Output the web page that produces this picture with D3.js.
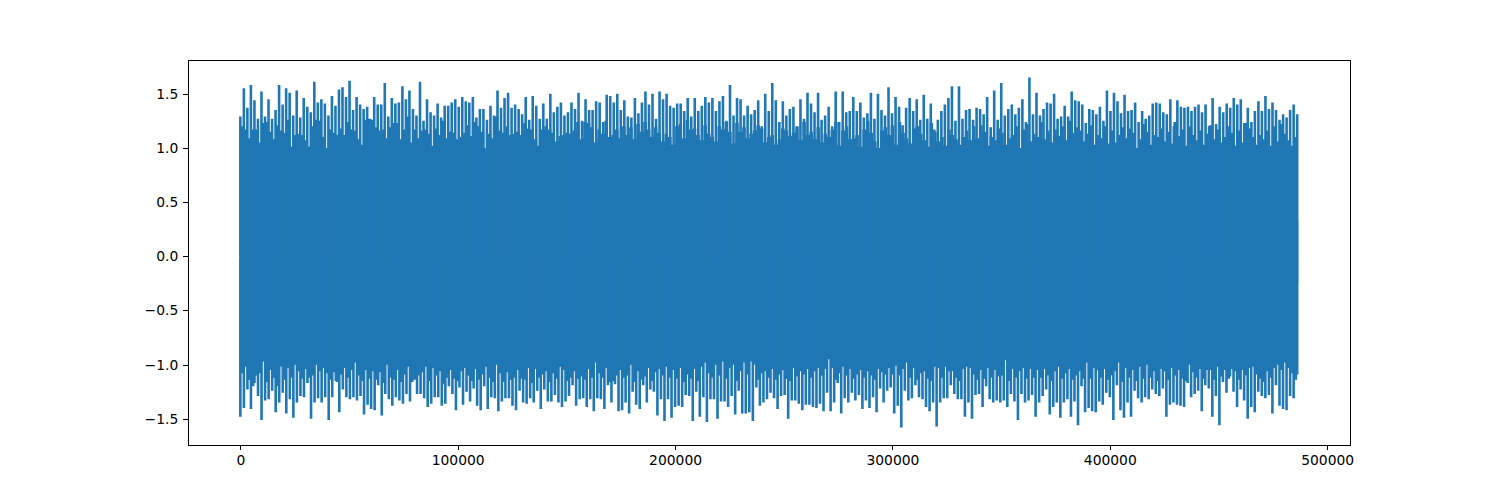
<!DOCTYPE html>
<html><head><meta charset="utf-8">
<script src="https://d3js.org/d3.v7.min.js"></script>
<style>html,body{margin:0;background:#fff}svg{display:block}text{font-family:"DejaVu Sans",sans-serif;font-size:13.89px;fill:#000}</style>
</head><body><svg id="c" width="1500" height="500"></svg>
<script>
const sampleCount = 486200;
const xTicks = [0,100000,200000,300000,400000,500000];
const yTicks = [-1.5,-1,-0.5,0,0.5,1,1.5];
const lineColor = "#1f77b4";
// upper peak of each oscillation
const upperPeaks = [
1.29,1.55,1.37,1.58,1.44,1.27,1.52,1.29,1.45,1.27,1.35,1.58,1.40,1.55,1.51,1.30,1.53,1.28,1.46,1.38,
1.33,1.61,1.42,1.45,1.41,1.30,1.48,1.39,1.54,1.56,1.47,1.62,1.35,1.47,1.40,1.36,1.38,1.26,1.47,1.40,
1.40,1.60,1.29,1.46,1.41,1.42,1.57,1.45,1.53,1.36,1.30,1.61,1.25,1.45,1.33,1.30,1.41,1.28,1.39,1.39,
1.42,1.45,1.38,1.47,1.43,1.42,1.47,1.28,1.36,1.36,1.26,1.39,1.30,1.53,1.37,1.46,1.51,1.37,1.40,1.36,
1.31,1.47,1.26,1.48,1.39,1.27,1.41,1.27,1.50,1.33,1.38,1.42,1.30,1.33,1.42,1.36,1.51,1.25,1.45,1.35,
1.35,1.43,1.42,1.24,1.49,1.48,1.42,1.50,1.35,1.44,1.29,1.28,1.46,1.32,1.42,1.52,1.40,1.50,1.27,1.52,
1.45,1.50,1.39,1.37,1.41,1.41,1.34,1.46,1.29,1.46,1.34,1.39,1.47,1.42,1.46,1.34,1.43,1.48,1.25,1.58,
1.30,1.46,1.45,1.30,1.39,1.31,1.35,1.44,1.20,1.50,1.34,1.60,1.44,1.24,1.43,1.30,1.36,1.38,1.18,1.45,
1.27,1.51,1.41,1.33,1.51,1.26,1.30,1.38,1.20,1.52,1.24,1.52,1.33,1.34,1.47,1.34,1.42,1.28,1.32,1.51,
1.27,1.50,1.35,1.30,1.56,1.32,1.47,1.38,1.21,1.37,1.46,1.34,1.45,1.26,1.49,1.27,1.41,1.17,1.26,1.34,
1.40,1.46,1.57,
1.25,1.57,1.27,1.35,1.36,1.26,1.37,1.36,1.31,1.47,1.19,1.53,1.26,1.60,1.30,1.36,1.40,1.31,1.37,1.45,
1.24,1.65,1.31,1.51,1.30,1.36,1.42,1.41,1.50,1.27,1.29,1.39,1.29,1.52,1.44,1.43,1.40,1.23,1.36,1.35,
1.31,1.38,1.25,1.53,1.34,1.51,1.43,1.32,1.49,1.34,1.35,1.42,1.24,1.34,1.27,1.30,1.41,1.42,1.41,1.33,
1.31,1.45,1.20,1.44,1.38,1.37,1.38,1.34,1.38,1.40,1.33,1.40,1.20,1.46,1.22,1.38,1.33,1.41,1.37,1.46,
1.40,1.45,1.23,1.37,1.24,1.34,1.43,1.34,1.48,1.36,1.42,1.35,1.26,1.31,1.28,1.35,1.40,1.31];
// lower peak of each oscillation
const lowerPeaks = [
-1.48,-1.40,-1.23,-1.41,-1.17,-1.29,-1.51,-1.33,-1.32,-1.24,-1.44,-1.35,-1.26,-1.45,-1.32,-1.49,-1.35,-1.29,-1.30,-1.17,
-1.50,-1.35,-1.31,-1.35,-1.30,-1.51,-1.30,-1.15,-1.44,-1.23,-1.30,-1.32,-1.30,-1.33,-1.29,-1.46,-1.37,-1.41,-1.42,-1.19,
-1.47,-1.27,-1.32,-1.38,-1.30,-1.33,-1.36,-1.27,-1.34,-1.12,-1.27,-1.27,-1.31,-1.39,-1.36,-1.30,-1.30,-1.38,-1.36,-1.20,
-1.27,-1.42,-1.21,-1.37,-1.25,-1.34,-1.22,-1.38,-1.42,-1.20,-1.41,-1.30,-1.31,-1.43,-1.34,-1.31,-1.31,-1.38,-1.42,-1.24,
-1.35,-1.36,-1.31,-1.35,-1.24,-1.41,-1.23,-1.34,-1.34,-1.28,-1.35,-1.39,-1.34,-1.29,-1.19,-1.38,-1.32,-1.31,-1.39,
-1.32,-1.43,-1.31,-1.32,-1.41,-1.19,-1.35,-1.18,-1.43,-1.42,-1.35,-1.45,-1.25,-1.37,-1.41,-1.19,-1.35,-1.23,-1.25,-1.47,
-1.32,-1.52,-1.32,-1.49,-1.39,-1.38,-1.39,-1.28,-1.29,-1.52,-1.25,-1.48,-1.30,-1.53,-1.32,-1.32,-1.50,-1.34,-1.34,-1.39,
-1.29,-1.46,-1.24,-1.45,-1.45,-1.44,-1.52,-1.21,-1.38,-1.35,-1.32,-1.26,-1.31,-1.41,-1.29,-1.28,-1.50,-1.33,-1.33,-1.36,
-1.42,-1.37,-1.37,-1.39,-1.40,-1.36,-1.43,-1.26,-1.43,-1.35,-1.17,-1.45,-1.31,-1.35,-1.26,-1.33,-1.28,-1.41,-1.33,-1.40,
-1.30,-1.44,-1.22,-1.35,-1.24,-1.21,-1.45,-1.38,-1.58,-1.24,-1.33,-1.31,-1.19,-1.30,-1.32,-1.39,-1.43,-1.35,-1.57,-1.35,-1.31,-1.31,
-1.19,-1.27,-1.32,-1.32,-1.48,-1.35,-1.50,-1.28,-1.27,-1.39,-1.20,-1.32,-1.35,-1.33,-1.35,-1.33,-1.39,-1.27,-1.34,-1.51,
-1.27,-1.35,-1.33,-1.28,-1.48,-1.35,-1.29,-1.23,-1.46,-1.39,-1.35,-1.49,-1.35,-1.32,-1.48,-1.34,-1.56,-1.20,-1.44,-1.40,
-1.43,-1.44,-1.34,-1.37,-1.26,-1.30,-1.51,-1.19,-1.42,-1.49,-1.35,-1.48,-1.24,-1.31,-1.35,-1.30,-1.32,-1.23,-1.27,-1.29,
-1.22,-1.48,-1.37,-1.35,-1.37,-1.38,-1.39,-1.17,-1.30,-1.27,-1.24,-1.43,-1.19,-1.22,-1.48,-1.29,-1.56,-1.16,-1.26,-1.11,
-1.25,-1.39,-1.23,-1.33,-1.50,-1.39,-1.44,-1.25,-1.29,-1.31,-1.28,-1.45,-1.19,-1.38,-1.41,-1.42,-1.29,-1.31,-1.09];
// level the dense core reaches between neighbouring peaks, upper side
const upperCore = [
1.20,1.17,1.09,1.17,1.17,1.05,1.23,1.24,1.15,1.08,1.21,1.16,1.14,1.26,1.01,1.12,1.13,1.12,1.07,1.01,
1.20,1.26,1.25,1.10,1.00,1.17,1.14,1.12,1.18,1.12,1.24,1.17,1.16,1.08,1.03,1.26,1.27,1.26,1.19,1.16,
1.17,1.09,1.19,1.23,1.23,1.08,1.17,1.29,1.05,1.17,1.09,1.16,1.17,1.13,1.02,1.18,1.12,1.25,1.09,1.15,
1.14,1.08,1.10,1.14,1.21,1.11,1.24,1.20,1.15,1.00,1.13,1.09,1.29,1.16,1.14,1.20,1.12,1.13,1.15,1.12,
1.23,1.18,1.17,1.08,1.02,1.17,1.20,1.17,1.14,1.06,1.11,1.12,1.14,1.13,1.16,1.24,1.08,1.24,1.23,1.19,
1.05,1.17,1.13,1.25,1.10,1.12,1.17,1.09,1.20,1.12,1.19,1.08,1.22,1.15,1.24,1.17,1.10,1.19,1.14,1.06,
1.13,1.10,1.03,1.20,1.22,1.09,1.26,1.17,1.18,1.12,1.07,1.21,1.13,1.10,1.06,1.20,1.17,1.24,1.15,1.04,
1.23,1.15,1.19,1.09,1.13,1.16,1.21,1.18,1.05,1.10,1.12,1.03,1.08,1.18,1.16,1.11,1.14,1.20,1.07,1.24,
1.12,1.15,1.08,1.19,1.05,1.13,1.10,1.17,1.24,1.02,1.16,1.20,1.08,1.09,1.12,1.01,1.17,1.25,1.14,1.06,
1.00,1.16,1.19,1.12,1.21,1.03,1.24,1.14,1.09,1.04,1.18,1.20,1.13,1.07,1.01,1.23,1.15,1.06,1.10,1.02,
1.17,1.12,
1.08,1.03,1.10,1.16,1.07,1.20,1.09,1.21,1.15,1.02,1.10,1.07,1.18,1.14,1.03,1.09,1.12,1.20,1.00,1.17,
1.22,1.06,1.13,1.10,1.24,1.08,1.16,1.05,1.17,1.11,1.20,1.07,1.25,1.14,1.19,1.16,1.06,1.13,1.21,1.03,
1.12,1.09,1.20,1.04,1.16,1.05,1.12,1.19,1.09,1.18,1.14,1.00,1.08,1.22,1.15,1.03,1.12,1.10,1.18,1.06,
1.15,1.04,1.24,1.11,1.17,1.02,1.20,1.12,1.07,1.16,1.03,1.13,1.21,1.08,1.17,1.05,1.10,1.20,1.14,1.02,
1.16,1.05,1.23,1.18,1.10,1.03,1.12,1.08,1.16,1.02,1.20,1.06,1.22,1.13,1.07,1.02,1.10,1.15];
// same level on the lower side
const lowerCore = [
-1.08,-1.02,-1.14,-1.20,-1.10,-1.08,-0.97,-1.16,-1.05,-1.12,-1.20,-1.02,-1.14,-1.03,-1.12,-1.00,-1.06,-1.13,-1.04,-1.12,
-1.10,-1.00,-1.06,-1.03,-1.08,-1.14,-1.07,-1.16,-1.09,-1.03,-1.12,-1.05,-0.98,-1.10,-1.15,-1.05,-1.13,-1.06,-1.14,-1.07,
-1.17,-1.00,-1.12,-1.14,-1.05,-1.16,-1.09,-1.02,-1.16,-1.14,-1.10,-1.07,-1.02,-1.15,-1.03,-1.10,-1.06,-1.18,-1.12,-1.05,
-1.13,-1.15,-1.06,-1.03,-1.10,-1.15,-1.04,-1.14,-1.09,-1.02,-1.12,-1.16,-1.00,-1.08,-1.16,-1.07,-1.14,-1.12,-1.05,-1.13,
-1.14,-1.03,-1.17,-1.04,-1.12,-1.09,-1.06,-1.16,-1.08,-1.13,-1.02,-1.05,-1.15,-1.12,-1.06,-1.13,-1.11,-1.14,-1.04,
-1.12,-0.98,-1.08,-1.12,-1.03,-1.16,-1.15,-1.10,-1.05,-1.12,-1.10,-1.00,-1.16,-1.06,-1.14,-1.11,-1.03,-1.15,-1.07,-1.04,
-1.10,-1.02,-1.12,-1.05,-1.13,-1.03,-1.16,-1.09,-1.13,-1.04,-1.15,-1.02,-0.98,-1.08,-1.12,-1.00,-1.10,-0.97,-1.13,-1.03,
-1.00,-1.15,-1.06,-0.98,-1.09,-0.97,-1.00,-1.14,-1.08,-1.06,-1.12,-1.04,-1.14,-1.09,-1.05,-1.13,-1.15,-1.03,-1.11,-1.06,
-1.09,-1.04,-1.12,-1.06,-1.03,-1.10,-1.04,-0.95,-1.03,-1.14,-1.08,-1.02,-1.10,-1.04,-1.13,-1.09,-1.05,-1.12,-1.06,-1.10,
-1.14,-1.04,-1.07,-1.09,-1.03,-1.09,-1.01,-1.10,-1.04,-0.98,-1.12,-1.03,-1.14,-1.08,-1.06,-1.13,-1.15,-1.02,-1.03,-1.12,-1.02,-1.06,
-1.06,-1.12,-1.15,-1.04,-1.02,-1.03,-1.09,-1.14,-1.05,-1.13,-1.03,-1.12,-1.05,-1.11,-1.10,-0.96,-1.15,-1.04,-1.12,-1.06,
-1.03,-1.13,-1.04,-1.12,-1.05,-1.12,-1.04,-1.10,-1.15,-1.06,-1.02,-1.13,-1.08,-1.04,-1.14,-1.10,-1.06,-1.13,-0.98,-1.13,
-1.03,-1.05,-1.12,-1.04,-1.14,-1.10,-1.06,-0.98,-1.16,-1.03,-1.12,-1.05,-1.15,-1.02,-1.13,-1.00,-1.12,-1.06,-1.15,-1.04,
-1.06,-1.14,-1.03,-1.10,-1.05,-1.13,-1.15,-1.00,-1.07,-1.12,-1.04,-1.13,-1.05,-1.05,-1.14,-1.02,-1.11,-1.05,-1.13,-1.04,
-1.06,-1.14,-1.05,-1.10,-1.03,-1.02,-1.09,-1.13,-1.16,-1.06,-1.12,-1.03,-1.00,-1.05,-0.98,-1.03,-1.08,-1.14,-1.08];
const tailUpper = 0.35, tailLower = -0.25;
const coreOverlap = 0.2;

const m={l:187.5,r:1350,t:60,b:445};
const svg=d3.select("#c");
const xPad=sampleCount*0.05;
const x=d3.scaleLinear().domain([-xPad,sampleCount+xPad]).range([m.l,m.r]);
const lo=d3.min(lowerPeaks),hi=d3.max(upperPeaks),pad=(hi-lo)*0.05;
const y=d3.scaleLinear().domain([lo-pad,hi+pad]).range([m.b,m.t]);
const posOf=arr=>i=>i*sampleCount/(arr.length-1);

function coreArea(core,base){
  const p=posOf(core);
  return d3.area().x((d,i)=>x(p(i))).y0(y(base)).y1(d=>y(d)).curve(d3.curveStepAfter)(core);
}
svg.append("path").attr("d",coreArea(upperCore,-coreOverlap)).attr("fill",lineColor);
svg.append("path").attr("d",coreArea(lowerCore,coreOverlap)).attr("fill",lineColor);

const spike=d3.line().defined(d=>d!==null).x(d=>x(d[0])).y(d=>y(d[1]));
function spikes(arr){
  const p=posOf(arr),out=[];
  arr.forEach((v,i)=>{out.push([p(i),v],[p(i),0],null);});
  return out;
}
[upperPeaks,lowerPeaks].forEach(a=>{
  svg.append("path").attr("d",spike(spikes(a))).attr("fill","none")
    .attr("stroke",lineColor).attr("stroke-width",2.6).attr("stroke-linecap","butt");
});
svg.append("path").attr("d",spike([[sampleCount,tailUpper],[sampleCount,tailLower]]))
  .attr("fill","none").attr("stroke",lineColor).attr("stroke-width",2.08);

const fmtY=d=>d3.format(".1f")(d).replace("-","\u2212");
const gx=svg.append("g").attr("transform",`translate(0,${m.b+0.5})`)
  .call(d3.axisBottom(x).tickValues(xTicks).tickFormat(d3.format("d")).tickSize(4.86).tickPadding(4.86));
const gy=svg.append("g").attr("transform",`translate(${m.l+0.5},0)`)
  .call(d3.axisLeft(y).tickValues(yTicks).tickFormat(fmtY).tickSize(4.86).tickPadding(4.86));
[gx,gy].forEach(g=>{g.select(".domain").remove();g.selectAll("line").attr("stroke","#000").attr("stroke-width",1).attr("shape-rendering","crispEdges");
  g.attr("font-size",null).attr("font-family",null);});
svg.append("rect").attr("x",m.l+1).attr("y",m.t+0.5).attr("width",m.r-m.l-0.5).attr("height",m.b-m.t)
  .attr("fill","none").attr("stroke","#000").attr("stroke-width",1).attr("shape-rendering","crispEdges");
</script></body></html>
